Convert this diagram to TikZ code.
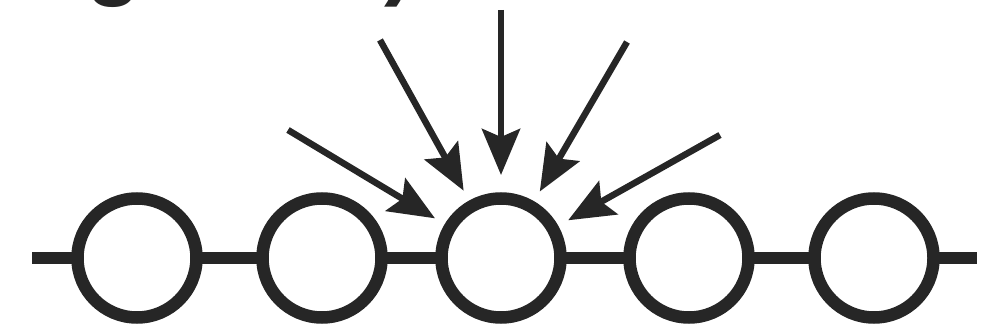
\documentclass[tikz,border=0pt]{standalone}
\usepackage{fontspec}
\newfontfamily\headfont{Liberation Sans}
\usetikzlibrary{arrows.meta}
\begin{document}
\begin{tikzpicture}[x=1pt,y=-1pt,
  bead/.style={circle,draw=black!85,line width=12.5pt,minimum size=119pt,inner sep=0pt,outer sep=0pt},
  chain/.style={draw=black!85,line width=12pt},
  push/.style={draw=black!85,line width=6.5pt,-{Stealth[length=46pt,width=38pt,inset=8pt]},shorten >=17.5pt},
  frag/.style={inner sep=0pt,outer sep=0pt,font=\headfont\bfseries\fontsize{90}{90}\selectfont,text=black!85}
]
\useasboundingbox (0,0) rectangle (983,328);
\begin{scope}
  \clip (0,0) rectangle (983,328);
  \node[frag,anchor=base west] (g) at (86,-11) {g};
  \node[frag,anchor=base west] (p) at (384,-11) {)};
\end{scope}
\node[bead] (c1) at (137,258) {};
\node[bead] (c2) at (322,258) {};
\node[bead] (c3) at (501,258) {};
\node[bead] (c4) at (689,258) {};
\node[bead] (c5) at (874,258) {};
\coordinate (L) at (32,258);
\coordinate (R) at (977,258);
\draw[chain] (L) -- (c1);
\draw[chain] (c1) -- (c2);
\draw[chain] (c2) -- (c3);
\draw[chain] (c3) -- (c4);
\draw[chain] (c4) -- (c5);
\draw[chain] (c5) -- (R);
\coordinate (s1) at (288,130);
\coordinate (s2) at (380,40);
\coordinate (s3) at (501,10);
\coordinate (s4) at (627,42);
\coordinate (s5) at (720,135);
\draw[push] (s1) -- (c3);
\draw[push] (s2) -- (c3);
\draw[push,shorten >=23.5pt] (s3) -- (c3);
\draw[push] (s4) -- (c3);
\draw[push] (s5) -- (c3);
\end{tikzpicture}
\end{document}
